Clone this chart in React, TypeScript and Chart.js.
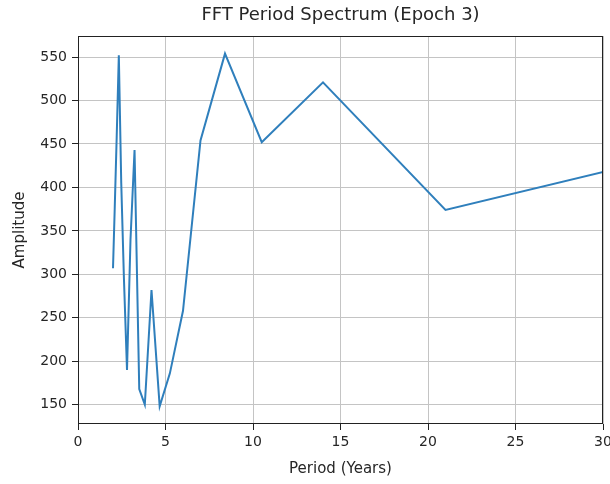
import React, { useEffect, useRef } from "react";
import { Chart, registerables } from "chart.js";

Chart.register(...registerables);

// FFT periods (years) and amplitudes
const periods = [42, 21, 14, 10.5, 8.4, 7, 6, 5.25, 4.667, 4.2, 3.818, 3.5, 3.231, 3.0, 2.8, 2.625, 2.471, 2.333, 2.211, 2.1, 2.0];
const amplitudes = [476, 374, 521, 452, 554, 454, 258, 186, 148, 282, 150, 168, 443, 340, 190, 295, 405, 552, 458, 377, 307];

const xTicks = [0, 5, 10, 15, 20, 25, 30];
const yTicks = [150, 200, 250, 300, 350, 400, 450, 500, 550];

const titleText = "FFT Period Spectrum (Epoch 3)";
const xLabel = "Period (Years)";
const yLabel = "Amplitude";

const FONT = "'DejaVu Sans', sans-serif";
const TEXT = "#262626";

const framePlugin = {
  id: "frame",
  afterDatasetsDraw(chart: any) {
    const { ctx, chartArea } = chart;
    const l = Math.round(chartArea.left) + 0.5;
    const t = Math.round(chartArea.top) + 0.5;
    const r = Math.round(chartArea.right) - 0.5;
    const b = Math.round(chartArea.bottom) - 0.5;
    ctx.save();
    ctx.strokeStyle = "#222";
    ctx.lineWidth = 1;
    ctx.strokeRect(l, t, r - l, b - t);
    ctx.restore();
  },
};

export default function App() {
  const ref = useRef<HTMLCanvasElement | null>(null);

  useEffect(() => {
    document.body.style.margin = "0";
    const canvas = ref.current;
    if (!canvas) return;
    const chart = new Chart(canvas, {
      type: "line",
      data: {
        datasets: [
          {
            data: periods.map((p, i) => ({ x: p, y: amplitudes[i] })),
            borderColor: "#2f7fbc",
            borderWidth: 2,
            pointRadius: 0,
            tension: 0,
            fill: false,
          },
        ],
      },
      options: {
        animation: false,
        responsive: false,
        devicePixelRatio: 1,
        layout: { padding: { left: 0, right: 7, top: 0, bottom: 0 } },
        plugins: {
          legend: { display: false },
          tooltip: { enabled: false },
          title: {
            display: true,
            text: titleText,
            fullSize: false,
            color: TEXT,
            font: { family: FONT, size: 18, weight: "normal" },
            padding: { top: 5, bottom: 9.4 },
          },
        },
        scales: {
          x: {
            type: "linear",
            min: 0,
            max: 30,
            afterBuildTicks: (s: any) => {
              s.ticks = xTicks.map((v) => ({ value: v }));
            },
            afterFit: (s: any) => {
              s.height = 60;
              s.paddingLeft = 0;
              s.paddingRight = 0;
            },
            border: { display: false },
            grid: { color: "#c4c4c4", tickColor: "#222", tickLength: 6, lineWidth: 1 },
            ticks: {
              color: TEXT,
              font: { family: FONT, size: 14 },
              padding: 4,
              maxRotation: 0,
              autoSkip: false,
            },
            title: {
              display: true,
              text: xLabel,
              color: TEXT,
              font: { family: FONT, size: 15 },
              padding: { top: 0, bottom: 6 },
            },
          },
          y: {
            type: "linear",
            min: 127.7,
            max: 574.3,
            afterBuildTicks: (s: any) => {
              s.ticks = yTicks.map((v) => ({ value: v }));
            },
            afterFit: (s: any) => {
              s.width = 78;
              s.paddingTop = 0;
              s.paddingBottom = 0;
            },
            border: { display: false },
            grid: { color: "#c4c4c4", tickColor: "#222", tickLength: 6, lineWidth: 1 },
            ticks: {
              color: TEXT,
              font: { family: FONT, size: 14 },
              padding: 5,
              autoSkip: false,
            },
            title: {
              display: true,
              text: yLabel,
              color: TEXT,
              font: { family: FONT, size: 15 },
              padding: { top: 11, bottom: 0 },
            },
          },
        },
      },
      plugins: [framePlugin],
    } as any);
    return () => chart.destroy();
  }, []);

  return (
    <div style={{ position: "fixed", left: 0, top: 0, width: 610, height: 484, background: "#fff" }}>
      <canvas ref={ref} width={610} height={484} style={{ width: 610, height: 484, display: "block" }} />
    </div>
  );
}
